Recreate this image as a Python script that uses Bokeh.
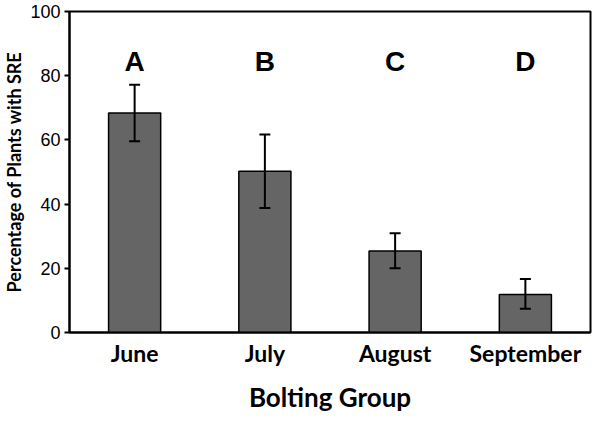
from bokeh.plotting import figure
from bokeh.models import ColumnDataSource, Range1d, FactorRange, FixedTicker, Whisker, TeeHead
from bokeh.core.properties import value
from bokeh.embed import file_html
from bokeh.resources import INLINE

groups = ["June", "July", "August", "September"]
percent_sre = [68.4, 50.2, 25.4, 11.8]
err_upper = [77.2, 61.7, 30.9, 16.7]
err_lower = [59.6, 38.8, 20.0, 7.4]
letters = ["A", "B", "C", "D"]
letter_level = 84.4
y_ticks = [0, 20, 40, 60, 80, 100]

src = ColumnDataSource(dict(x=groups, top=percent_sre, upper=err_upper, lower=err_lower,
                            lab=letters, ly=[letter_level] * len(groups)))

p = figure(width=592, height=415, output_backend="svg", toolbar_location=None,
           x_range=FactorRange(factors=groups, range_padding=0),
           y_range=Range1d(0, 100),
           min_border_left=57, min_border_right=2, min_border_top=11, min_border_bottom=80)

p.vbar(x="x", top="top", width=0.4, bottom=0, source=src,
       fill_color="#656565", line_color="black", line_width=1.5)

w = Whisker(source=src, base="x", upper="upper", lower="lower", line_width=2, line_color="black",
            upper_head=TeeHead(size=11, line_width=2, line_color="black"),
            lower_head=TeeHead(size=11, line_width=2, line_color="black"),
            level="overlay")
p.add_layout(w)

p.text(x="x", y="ly", text="lab", source=src, text_align="center", text_baseline="middle",
       text_font=value("Liberation Sans"), text_font_style="bold", text_font_size="28px",
       text_color="black")

p.grid.visible = False
p.outline_line_color = "black"
p.outline_line_width = 2
p.background_fill_color = "white"
p.border_fill_color = "white"

ya = p.yaxis[0]
ya.ticker = FixedTicker(ticks=y_ticks)
ya.axis_line_width = 2
ya.axis_line_color = "black"
ya.major_tick_line_width = 2
ya.major_tick_out = 5
ya.major_tick_in = 0
ya.minor_tick_line_color = None
ya.major_label_text_font = "Liberation Sans"
ya.major_label_text_font_size = "18px"
ya.major_label_text_color = "black"
ya.major_label_standoff = 4
ya.axis_label = "Percentage of Plants with SRE"
ya.axis_label_text_font = "Lato"
ya.axis_label_text_font_style = "bold"
ya.axis_label_text_font_size = "18px"
ya.axis_label_text_color = "black"
ya.axis_label_standoff = 2

xa = p.xaxis[0]
xa.axis_line_width = 2
xa.axis_line_color = "black"
xa.major_tick_line_color = None
xa.minor_tick_line_color = None
xa.major_label_text_font = "Lato"
xa.major_label_text_font_style = "bold"
xa.major_label_text_font_size = "23px"
xa.major_label_text_color = "black"
xa.major_label_standoff = 0
xa.axis_label = "Bolting Group"
xa.axis_label_text_font = "Lato"
xa.axis_label_text_font_style = "bold"
xa.axis_label_text_font_size = "26px"
xa.axis_label_text_color = "black"
xa.axis_label_standoff = 11

open("out.html", "w").write(file_html(p, INLINE))
